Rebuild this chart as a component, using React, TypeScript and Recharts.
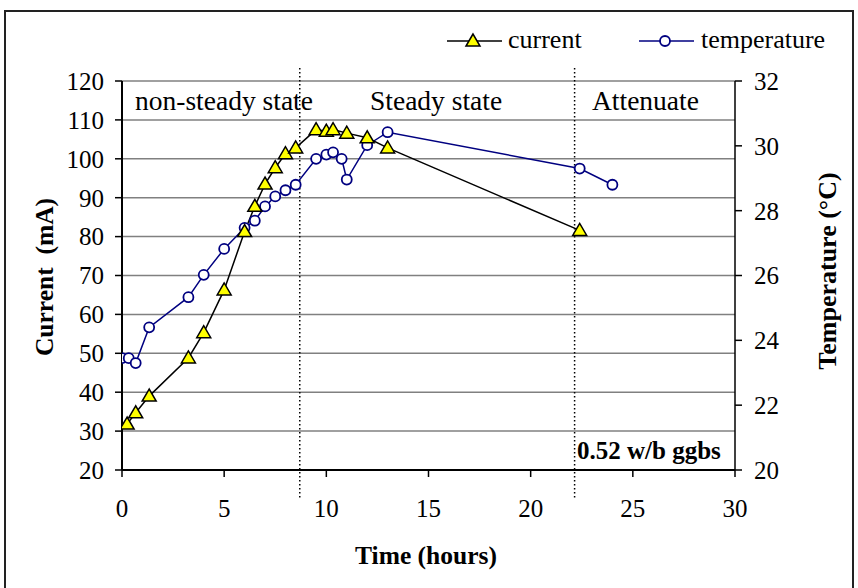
import { LineChart, Line, XAxis, YAxis, CartesianGrid, ReferenceLine, Legend } from 'recharts';

// current (left axis)
const currentHours = [0.25, 0.67, 1.33, 3.25, 4, 5, 6, 6.5, 7, 7.5, 8, 8.5, 9.5, 10, 10.33, 11, 12, 13, 22.4];
const currentMA = [31.8, 34.7, 39, 48.8, 55.3, 66.3, 81.3, 87.8, 93.5, 97.7, 101.3, 102.8, 107.5, 107.1, 107.5, 106.6, 105.4, 102.8, 81.6];

// temperature (right axis)
const temperatureHours = [0, 0.33, 0.67, 1.33, 3.25, 4, 5, 6, 6.5, 7, 7.5, 8, 8.5, 9.5, 10, 10.33, 10.75, 11, 12, 13, 22.4, 24];
const temperatureC = [23.45, 23.45, 23.3, 24.4, 25.33, 26.02, 26.82, 27.47, 27.69, 28.13, 28.44, 28.63, 28.8, 29.6, 29.73, 29.8, 29.6, 28.96, 30.02, 30.42, 29.3, 28.8];

const timeTicks = [0, 5, 10, 15, 20, 25, 30];
const currentTicks = [20, 30, 40, 50, 60, 70, 80, 90, 100, 110, 120];
const temperatureTicks = [20, 22, 24, 26, 28, 30, 32];
const phaseBoundaries = [8.7, 22.15];

const currentData = currentHours.map((h, i) => ({ hours: h, current: currentMA[i] }));
const temperatureData = temperatureHours.map((h, i) => ({ hours: h, temperature: temperatureC[i] }));

const FONT = '"Liberation Serif", "Times New Roman", serif';
const NAVY = '#000080';

const TriangleDot = (props: any) => {
  const { cx, cy, index } = props;
  if (cx == null || cy == null) return null;
  return (
    <polygon
      key={`tri-${index}`}
      points={`${cx},${cy - 7} ${cx - 7},${cy + 5} ${cx + 7},${cy + 5}`}
      fill="#ffff00"
      stroke="#000"
      strokeWidth={1.5}
    />
  );
};

const CircleDot = (props: any) => {
  const { cx, cy, index } = props;
  if (cx == null || cy == null) return null;
  return <circle key={`cir-${index}`} cx={cx} cy={cy} r={5} fill="#fff" stroke={NAVY} strokeWidth={1.8} />;
};

const DottedBoundary = (props: any) => {
  const { x1, y1, x2, y2 } = props;
  const top = Math.min(y1, y2) - 13;
  const bottom = Math.max(y1, y2) + 30;
  return <line x1={x1} y1={top} x2={x2} y2={bottom} stroke="#000" strokeWidth={1.5} strokeDasharray="1.5 2.5" />;
};

const renderLegend = () => (
  <svg width={410} height={40} style={{ overflow: 'visible' }}>
    <line x1={7} y1={20} x2={62} y2={20} stroke="#000" strokeWidth={1.5} />
    <TriangleDot cx={33} cy={20} index={0} />
    <text x={68} y={27} fontSize={26} fontFamily={FONT} fill="#000">current</text>
    <line x1={199} y1={20} x2={254} y2={20} stroke={NAVY} strokeWidth={1.5} />
    <CircleDot cx={225} cy={20} index={0} />
    <text x={261} y={27} fontSize={26} fontFamily={FONT} fill="#000">temperature</text>
  </svg>
);

const tickStyle = { fontSize: 25, fontFamily: FONT, fill: '#000' };

export default function App() {
  return (
    <div style={{ position: 'fixed', left: 0, top: 0, width: 858, height: 588, background: '#fff' }}>
      <LineChart width={858} height={588} margin={{ top: 81, right: 0, bottom: 0, left: 0 }}>
        <path d="M5,600 L5,11 L853,11 L853,600" fill="none" stroke="#222" strokeWidth={2} />
        <CartesianGrid yAxisId="left" vertical={false} stroke="#808080" strokeWidth={1.5} />
        <XAxis
          dataKey="hours"
          type="number"
          domain={[0, 30]}
          ticks={timeTicks}
          height={118}
          axisLine={{ stroke: '#000', strokeWidth: 2 }}
          tickLine={{ stroke: '#000', strokeWidth: 1.5 }}
          tickSize={7}
          tickMargin={22}
          tick={tickStyle}
          allowDataOverflow
        />
        <YAxis
          yAxisId="left"
          domain={[20, 120]}
          ticks={currentTicks}
          width={122}
          axisLine={{ stroke: '#000', strokeWidth: 2 }}
          tickLine={{ stroke: '#000', strokeWidth: 1.5 }}
          tickSize={7}
          tickMargin={11}
          tick={tickStyle}
        />
        <YAxis
          yAxisId="right"
          orientation="right"
          domain={[20, 32]}
          ticks={temperatureTicks}
          width={123}
          axisLine={{ stroke: '#000', strokeWidth: 1.5 }}
          tickLine={{ stroke: '#000', strokeWidth: 1.5 }}
          tickSize={7}
          tickMargin={12}
          tick={tickStyle}
        />
        {phaseBoundaries.map((x) => (
          <ReferenceLine key={x} x={x} yAxisId="left" shape={DottedBoundary} />
        ))}
        <Line
          data={temperatureData}
          dataKey="temperature"
          yAxisId="right"
          stroke={NAVY}
          strokeWidth={1.5}
          dot={CircleDot}
          isAnimationActive={false}
        />
        <Line
          data={currentData}
          dataKey="current"
          yAxisId="left"
          stroke="#000"
          strokeWidth={1.5}
          dot={TriangleDot}
          isAnimationActive={false}
        />
        <Legend
          layout="vertical"
          align="center"
          verticalAlign="middle"
          content={renderLegend}
          wrapperStyle={{ position: 'absolute', left: 440, top: 21, width: 410, height: 40 }}
        />
        <text x={135} y={110} fontSize={27.5} fontFamily={FONT} fill="#000">non-steady state</text>
        <text x={370} y={110} fontSize={27.5} fontFamily={FONT} fill="#000">Steady state</text>
        <text x={592} y={110} fontSize={27.5} fontFamily={FONT} fill="#000">Attenuate</text>
        <text x={577} y={459} fontSize={25} fontWeight="bold" fontFamily={FONT} fill="#000">0.52 w/b ggbs</text>
        <text
          x={53}
          y={277}
          fontSize={25.5}
          fontWeight="bold"
          fontFamily={FONT}
          fill="#000"
          textAnchor="middle"
          transform="rotate(-90 53 277)"
          style={{ whiteSpace: 'pre' }}
        >
          {'Current  (mA)'}
        </text>
        <text x={836} y={271} fontSize={26} fontWeight="bold" fontFamily={FONT} fill="#000" textAnchor="middle" transform="rotate(-90 836 271)">
          Temperature (°C)
        </text>
        <text x={426} y={564} fontSize={25.5} fontWeight="bold" fontFamily={FONT} fill="#000" textAnchor="middle">
          Time (hours)
        </text>
      </LineChart>
    </div>
  );
}
